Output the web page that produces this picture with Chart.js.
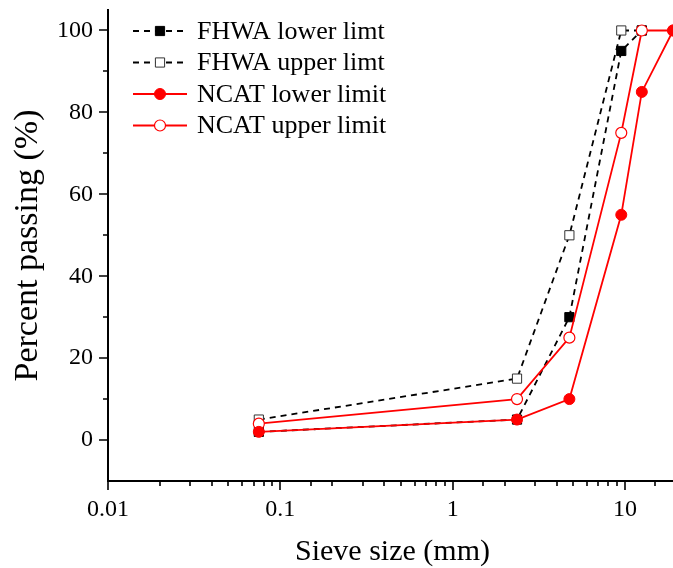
<!DOCTYPE html>
<html>
<head>
<meta charset="utf-8">
<script src="https://cdn.jsdelivr.net/npm/chart.js@4/dist/chart.umd.min.js"></script>
<style>
  html, body { margin: 0; padding: 0; overflow: hidden; background: #fff; }
  #wrap { width: 690px; height: 568px; }
</style>
</head>
<body>
<div id="wrap"><canvas id="gradation" width="690" height="568"></canvas></div>
<script>
// sieve sizes (mm) and percent passing
const sieveFhwa = [0.075, 2.36, 4.75, 9.5, 12.5];
const fhwaLower = [2, 5, 30, 95, 100];
const fhwaUpper = [5, 15, 50, 100, 100];
const sieveNcat = [0.075, 2.36, 4.75, 9.5, 12.5, 19];
const ncatLower = [2, 5, 10, 55, 85, 100];
const ncatUpper = [4, 10, 25, 75, 100, 100];
const seriesNames = ["FHWA lower limt", "FHWA upper limt", "NCAT lower limit", "NCAT upper limit"];
const xTickLabels = ["0.01", "0.1", "1", "10"];
const yTicks = [0, 10, 20, 30, 40, 50, 60, 70, 80, 90, 100];
const yTickLabels = [0, 20, 40, 60, 80, 100];

const serif = "'Liberation Serif', 'Times New Roman', serif";
const pts = (xs, ys) => xs.map((x, i) => ({ x: x, y: ys[i] }));
const isDecade = v => Math.abs(Math.log10(v) - Math.round(Math.log10(v))) < 1e-6;

// tick marks: long for labelled ticks, short for the rest
const tickMarks = {
  id: "tickMarks",
  afterDraw(chart) {
    const ctx = chart.ctx;
    const xs = chart.scales.x, ys = chart.scales.y;
    ctx.save();
    ctx.strokeStyle = "#000";
    ctx.lineWidth = 1.6;
    ctx.beginPath();
    xs.ticks.forEach(t => {
      if (t.value > 19.9) return;
      const px = Math.round(xs.getPixelForValue(t.value));
      const len = isDecade(t.value) ? 9 : 5;
      ctx.moveTo(px, xs.top);
      ctx.lineTo(px, xs.top + len);
    });
    ys.ticks.forEach(t => {
      const py = Math.round(ys.getPixelForValue(t.value));
      const len = yTickLabels.includes(t.value) ? 9 : 5;
      ctx.moveTo(ys.right, py);
      ctx.lineTo(ys.right - len, py);
    });
    ctx.stroke();
    ctx.restore();
  }
};

// legend in the upper left of the plot, line with marker in the middle
const lineLegend = {
  id: "lineLegend",
  afterDraw(chart) {
    const ctx = chart.ctx;
    const x0 = 133, x1 = 187, tx = 197;
    const rows = [31, 62.5, 94, 125.5];
    ctx.save();
    chart.data.datasets.forEach((ds, i) => {
      const y = rows[i];
      const cx = (x0 + x1) / 2;
      ctx.strokeStyle = ds.borderColor;
      ctx.lineWidth = ds.borderWidth;
      ctx.setLineDash(ds.borderDash || []);
      ctx.beginPath();
      ctx.moveTo(x0, y);
      ctx.lineTo(x1, y);
      ctx.stroke();
      ctx.setLineDash([]);
      ctx.fillStyle = ds.pointBackgroundColor;
      ctx.strokeStyle = ds.pointBorderColor;
      ctx.lineWidth = ds.pointBorderWidth;
      ctx.beginPath();
      if (ds.pointStyle === "rect") {
        const s = ds.pointRadius * Math.SQRT1_2;
        ctx.rect(cx - s, y - s, 2 * s, 2 * s);
      } else {
        ctx.arc(cx, y, ds.pointRadius, 0, Math.PI * 2);
      }
      ctx.fill();
      ctx.stroke();
      ctx.fillStyle = "#000";
      ctx.font = "26px " + serif;
      ctx.textBaseline = "middle";
      ctx.textAlign = "left";
      ctx.fillText(ds.label, tx, y + 1);
    });
    ctx.restore();
  }
};

new Chart(document.getElementById("gradation"), {
  type: "line",
  data: {
    datasets: [
      {
        label: seriesNames[0], data: pts(sieveFhwa, fhwaLower), order: 2,
        borderColor: "#000", borderWidth: 1.8, borderDash: [6, 5],
        pointStyle: "rect", pointRadius: 6.5, pointBackgroundColor: "#000",
        pointBorderColor: "#000", pointBorderWidth: 1
      },
      {
        label: seriesNames[1], data: pts(sieveFhwa, fhwaUpper), order: 2,
        borderColor: "#000", borderWidth: 1.8, borderDash: [6, 5],
        pointStyle: "rect", pointRadius: 6.5, pointBackgroundColor: "#fff",
        pointBorderColor: "#333", pointBorderWidth: 1
      },
      {
        label: seriesNames[2], data: pts(sieveNcat, ncatLower), order: 1,
        borderColor: "#ff0000", borderWidth: 1.8,
        pointStyle: "circle", pointRadius: 5.5, pointBackgroundColor: "#ff0000",
        pointBorderColor: "#ff0000", pointBorderWidth: 1
      },
      {
        label: seriesNames[3], data: pts(sieveNcat, ncatUpper), order: 1,
        borderColor: "#ff0000", borderWidth: 1.8,
        pointStyle: "circle", pointRadius: 5.5, pointBackgroundColor: "#fff",
        pointBorderColor: "#ff0000", pointBorderWidth: 1.2
      }
    ]
  },
  options: {
    responsive: false,
    animation: false,
    events: [],
    layout: { padding: { left: 0, top: 10, right: 13, bottom: 0 } },
    plugins: { legend: { display: false }, tooltip: { enabled: false } },
    scales: {
      x: {
        type: "logarithmic",
        min: 0.01,
        max: 20,
        grid: { display: false, drawTicks: false },
        border: { display: true, color: "#000", width: 2 },
        ticks: {
          autoSkip: false, maxRotation: 0, padding: 14,
          color: "#000", font: { family: serif, size: 24 },
          callback: v => {
            if (!isDecade(v)) return "";
            const s = String(Number(v.toPrecision(1)));
            return xTickLabels.includes(s) ? s : "";
          }
        },
        title: {
          display: true, text: "Sieve size (mm)", color: "#000",
          font: { family: serif, size: 30 }, padding: { top: 0, bottom: -2 }
        },
        afterFit: s => { s.height = 87; s.paddingLeft = 0; s.paddingRight = 0; }
      },
      y: {
        min: -10,
        max: 105,
        grid: { display: false, drawTicks: false },
        border: { display: true, color: "#000", width: 2 },
        ticks: {
          autoSkip: false, padding: 15,
          color: "#000", font: { family: serif, size: 24 },
          callback: v => yTickLabels.includes(v) ? String(v) : ""
        },
        afterBuildTicks: s => { s.ticks = yTicks.map(v => ({ value: v })); },
        title: {
          display: true, text: "Percent passing (%)", color: "#000",
          font: { family: serif, size: 34 }, padding: { top: 8, bottom: 0 }
        },
        afterFit: s => { s.width = 108; s.paddingTop = 0; s.paddingBottom = 0; }
      }
    }
  },
  plugins: [tickMarks, lineLegend]
});
</script>
</body>
</html>
